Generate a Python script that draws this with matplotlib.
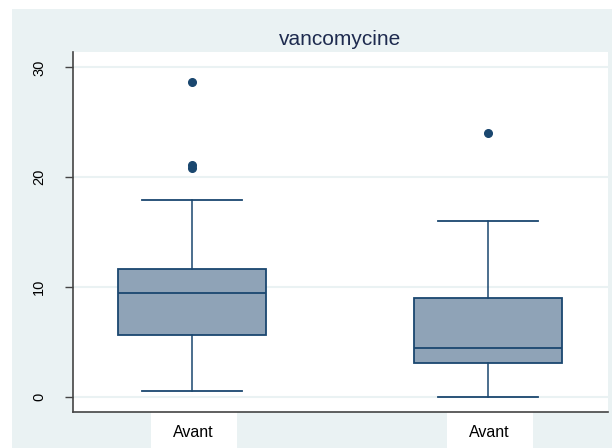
import matplotlib
matplotlib.use("Agg")
import matplotlib.pyplot as plt
from matplotlib.patches import Rectangle
from matplotlib.transforms import blended_transform_factory

plt.rcParams['font.family'] = ['Liberation Sans', 'DejaVu Sans']

title = "vancomycine"
categories = ["Avant", "Avant"]
q1 = [5.65, 3.07]
median = [9.44, 4.49]
q3 = [11.63, 9.0]
whislo = [0.5, 0.0]
whishi = [17.94, 16.0]
outliers = [[28.66, 21.1, 20.8], [24.0]]
yticks = [0, 10, 20, 30]

navy = "#1A476F"
fill = "#8FA3B7"
bg = "#EAF2F3"

fig = plt.figure(figsize=(6.12, 4.48), dpi=100)
fig.patch.set_facecolor("white")
W, H = 612, 448
fig.patches.append(Rectangle((12 / W, 0), 1 - 12 / W, 1 - 9 / H, transform=fig.transFigure,
                             facecolor=bg, edgecolor="none", zorder=-10))

ax = fig.add_axes([72.7 / W, (H - 412) / H, (608 - 72.7) / W, (412 - 52) / H])
ax.set_facecolor("white")

stats = []
for i in range(len(categories)):
    stats.append(dict(med=median[i], q1=q1[i], q3=q3[i], whislo=whislo[i],
                      whishi=whishi[i], fliers=outliers[i], label=categories[i]))

positions = [1, 2]
ax.bxp(stats, positions=positions, widths=0.5, capwidths=0.337, patch_artist=True,
       boxprops=dict(facecolor=fill, edgecolor=navy, linewidth=1.3),
       medianprops=dict(color=navy, linewidth=1.3),
       whiskerprops=dict(color=navy, linewidth=1.1),
       capprops=dict(color=navy, linewidth=1.3),
       flierprops=dict(marker="o", markerfacecolor=navy, markeredgecolor=navy, markersize=5.5),
       zorder=3)

ax.set_xlim(0.597, 2.405)
ax.set_ylim(-1.37, 31.4)

ax.set_yticks(yticks)
ax.set_yticklabels([str(t) for t in yticks], rotation=90, va="center", fontsize=10.5)
ax.tick_params(axis="y", length=6, width=1, color="#444444", pad=13)
ax.yaxis.grid(True, color=bg, linewidth=1.5, zorder=0)
ax.set_axisbelow(True)

ax.set_xticks([])
for s in ["top", "right"]:
    ax.spines[s].set_visible(False)
for s in ["left", "bottom"]:
    ax.spines[s].set_color("#444444")
    ax.spines[s].set_linewidth(1.2)

trans = blended_transform_factory(ax.transData, fig.transFigure)
box_w = 86 / 296
for p, lab in zip(positions, categories):
    cx = p + 1.5 / 296
    fig.patches.append(Rectangle((cx - box_w / 2, 0), box_w, (H - 412) / H, transform=trans,
                                 facecolor="white", edgecolor="none", zorder=-5))
    fig.text(cx, (H - 432) / H, lab, transform=trans, ha="center", va="center",
             fontsize=11.5, color="black")

ax.set_title(title, fontsize=15, color="#1E2B4F", pad=5)

fig.savefig("out.png", dpi=100)
